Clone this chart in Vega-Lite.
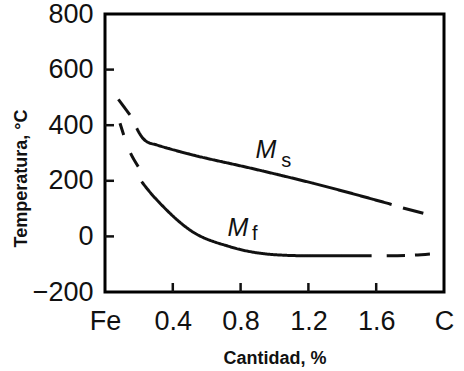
{
  "$schema": "https://vega.github.io/schema/vega-lite/v6.json",
  "autosize": "none",
  "width": 339,
  "height": 278,
  "padding": {"left": 105, "top": 14, "right": 20, "bottom": 79},
  "background": "white",
  "config": {
    "font": "Liberation Sans",
    "view": {"stroke": "#000", "strokeWidth": 3},
    "axis": {
      "grid": false,
      "domain": false,
      "ticks": false,
      "tickSize": 0,
      "zindex": 1,
      "labelFont": "Liberation Sans",
      "labelFontSize": 27,
      "labelColor": "#111",
      "titleFont": "Liberation Sans",
      "titleFontSize": 18,
      "titleFontWeight": "bold",
      "titleColor": "#111",
      "labelOverlap": false
    }
  },
  "datasets": {
    "curvas": [
      {"curva": "Ms", "tramo": "Ms inicial", "c": 0.079, "t": 493},
      {"curva": "Ms", "tramo": "Ms inicial", "c": 0.147, "t": 437},
      {"curva": "Ms", "tramo": "Ms", "c": 0.187, "t": 389},
      {"curva": "Ms", "tramo": "Ms", "c": 0.216, "t": 359},
      {"curva": "Ms", "tramo": "Ms", "c": 0.246, "t": 341},
      {"curva": "Ms", "tramo": "Ms", "c": 0.305, "t": 329},
      {"curva": "Ms", "tramo": "Ms", "c": 0.442, "t": 305},
      {"curva": "Ms", "tramo": "Ms", "c": 0.905, "t": 239},
      {"curva": "Ms", "tramo": "Ms", "c": 1.229, "t": 191},
      {"curva": "Ms", "tramo": "Ms", "c": 1.691, "t": 115},
      {"curva": "Ms", "tramo": "Ms final", "c": 1.758, "t": 102},
      {"curva": "Ms", "tramo": "Ms final", "c": 1.878, "t": 83},
      {"curva": "Mf", "tramo": "Mf inicial", "c": 0.0885, "t": 407},
      {"curva": "Mf", "tramo": "Mf inicial", "c": 0.142, "t": 311},
      {"curva": "Mf", "tramo": "Mf inicial", "c": 0.196, "t": 251},
      {"curva": "Mf", "tramo": "Mf", "c": 0.216, "t": 197},
      {"curva": "Mf", "tramo": "Mf", "c": 0.26, "t": 163},
      {"curva": "Mf", "tramo": "Mf", "c": 0.344, "t": 107},
      {"curva": "Mf", "tramo": "Mf", "c": 0.501, "t": 23},
      {"curva": "Mf", "tramo": "Mf", "c": 0.737, "t": -37},
      {"curva": "Mf", "tramo": "Mf", "c": 1.032, "t": -67},
      {"curva": "Mf", "tramo": "Mf", "c": 1.229, "t": -70},
      {"curva": "Mf", "tramo": "Mf", "c": 1.573, "t": -70},
      {"curva": "Mf", "tramo": "Mf final", "c": 1.662, "t": -70},
      {"curva": "Mf", "tramo": "Mf final", "c": 1.77, "t": -69},
      {"curva": "Mf", "tramo": "Mf final", "c": 1.917, "t": -63}
    ],
    "etiquetas": [
      {"texto": "M", "parte": "M", "c": 0.95, "t": 282},
      {"texto": "s", "parte": "sub", "c": 1.07, "t": 250},
      {"texto": "M", "parte": "M", "c": 0.784, "t": 1},
      {"texto": "f", "parte": "sub", "c": 0.883, "t": -13}
    ],
    "marcas": [
      {"eje": "x", "c": 0.4, "t": -200},
      {"eje": "x", "c": 0.8, "t": -200},
      {"eje": "x", "c": 1.2, "t": -200},
      {"eje": "x", "c": 1.6, "t": -200},
      {"eje": "y", "c": 0, "t": 0},
      {"eje": "y", "c": 0, "t": 200},
      {"eje": "y", "c": 0, "t": 400},
      {"eje": "y", "c": 0, "t": 600}
    ]
  },
  "encoding": {
    "x": {
      "field": "c",
      "type": "quantitative",
      "scale": {"domain": [0, 2], "nice": false, "zero": false},
      "axis": {
        "title": "Cantidad, %",
        "values": [0, 0.4, 0.8, 1.2, 1.6, 2],
        "labelExpr": "datum.value == 0 ? 'Fe' : datum.value == 2 ? 'C' : format(datum.value, '.1f')",
        "labelFlush": false,
        "labelAlign": "center",
        "labelPadding": 16,
        "titleY": 71,
        "titleBaseline": "alphabetic",
        "encode": {
          "labels": {
            "update": {
              "dx": {"signal": "datum.value == 0 ? 12.5 : datum.value < 0.5 ? 5 : datum.value < 0.9 ? 11 : datum.value < 1.3 ? 9 : datum.value < 1.7 ? 12 : 7"}
            }
          }
        }
      }
    },
    "y": {
      "field": "t",
      "type": "quantitative",
      "scale": {"domain": [-200, 800], "nice": false, "zero": false},
      "axis": {
        "title": "Temperatura, °C",
        "values": [-200, 0, 200, 400, 600, 800],
        "labelPadding": 12,
        "titleX": -84,
        "titleY": 164,
        "titleBaseline": "middle",
        "encode": {
          "labels": {
            "update": {
              "dy": {"signal": "-7 + (datum.value + 200) * 0.0125"}
            }
          }
        }
      }
    }
  },
  "layer": [
    {
      "data": {"name": "marcas"},
      "transform": [{"filter": "datum.eje == 'x'"}],
      "mark": {"type": "tick", "orient": "vertical", "color": "#111", "size": 18, "thickness": 2.5, "opacity": 1, "clip": true}
    },
    {
      "data": {"name": "marcas"},
      "transform": [{"filter": "datum.eje == 'y'"}],
      "mark": {"type": "tick", "orient": "horizontal", "color": "#111", "size": 18, "thickness": 2.5, "opacity": 1, "clip": true}
    },
    {
      "data": {"name": "curvas"},
      "mark": {"type": "line", "color": "#111", "strokeWidth": 3, "interpolate": "monotone"},
      "encoding": {
        "detail": {"field": "tramo"},
        "strokeDash": {
          "field": "tramo",
          "type": "nominal",
          "legend": null,
          "scale": {
            "domain": ["Ms", "Mf", "Ms inicial", "Ms final", "Mf inicial", "Mf final"],
            "range": [[1, 0], [1, 0], [20, 12], [21, 12], [12.2, 19.5, 15.8, 20], [18.3, 10, 15, 20]]
          }
        }
      }
    },
    {
      "data": {"name": "etiquetas"},
      "transform": [{"filter": "datum.parte == 'M'"}],
      "mark": {"type": "text", "fontSize": 25, "fontStyle": "italic", "font": "Liberation Sans", "color": "#111", "baseline": "alphabetic", "align": "center"},
      "encoding": {"text": {"field": "texto"}}
    },
    {
      "data": {"name": "etiquetas"},
      "transform": [{"filter": "datum.parte == 'sub'"}],
      "mark": {"type": "text", "fontSize": 20, "font": "Liberation Sans", "color": "#111", "baseline": "alphabetic", "align": "center"},
      "encoding": {"text": {"field": "texto"}}
    }
  ]
}
